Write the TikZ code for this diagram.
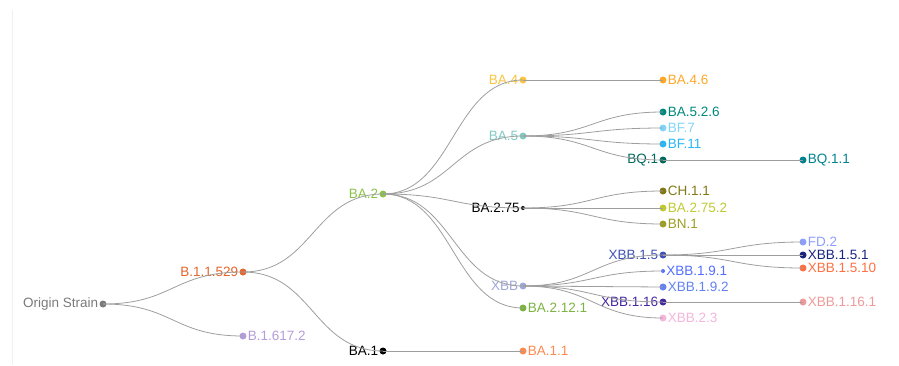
\documentclass[tikz,border=0pt]{standalone}
\usepackage{fontspec}
\setmainfont{Liberation Sans}
\usetikzlibrary{positioning}

\definecolor{cOrigin}{HTML}{7A7A7A}
\definecolor{cBOneOneFive}{HTML}{E5642B}
\definecolor{cBSixOneSeven}{HTML}{B39DDB}
\definecolor{cBATwo}{HTML}{8BC34A}
\definecolor{cBAFour}{HTML}{F9C440}
\definecolor{cBAFive}{HTML}{80CBC4}
\definecolor{cXBB}{HTML}{9FA8DA}
\definecolor{cBATwoTwelve}{HTML}{7CB342}
\definecolor{cBAOneOne}{HTML}{FF8A50}
\definecolor{cBAFourSix}{HTML}{FFA726}
\definecolor{cBAFiveTwo}{HTML}{00897B}
\definecolor{cBFSeven}{HTML}{81D4FA}
\definecolor{cBFEleven}{HTML}{29B6F6}
\definecolor{cBQOne}{HTML}{00695C}
\definecolor{cBQOneOne}{HTML}{00838F}
\definecolor{cCHOne}{HTML}{827717}
\definecolor{cBATwoSeven}{HTML}{C0CA33}
\definecolor{cBNOne}{HTML}{9E9D24}
\definecolor{cXBBFive}{HTML}{3F51B5}
\definecolor{cXBBNineOne}{HTML}{536DFE}
\definecolor{cXBBNineTwo}{HTML}{6482F0}
\definecolor{cXBBSixteen}{HTML}{4527A0}
\definecolor{cXBBTwoThree}{HTML}{F4B6DA}
\definecolor{cFDTwo}{HTML}{8C9EFF}
\definecolor{cXBBFiveOne}{HTML}{1A237E}
\definecolor{cXBBFiveTen}{HTML}{FF7043}
\definecolor{cXBBSixteenOne}{HTML}{EF9A9A}
\definecolor{cLink}{HTML}{9E9E9E}

\tikzset{
  dot/.style={circle, fill=#1, inner sep=0pt, minimum size=7pt},
  small dot/.style={circle, fill=#1, inner sep=0pt, minimum size=4pt},
  tag/.style={font=\fontsize{13.5}{16}\selectfont, inner sep=1pt},
  link/.style={draw=cLink, line width=0.8pt}
}

\begin{document}
\begin{tikzpicture}[x=1pt, y=-1pt]
			 \useasboundingbox (0,0) rectangle (899,365);
			 \draw[black!6, line width=0.8pt] (12,10) -- (12,365);
			 % root and first level
			 \node (origin) [dot=cOrigin, label={[tag, text=cOrigin]left:Origin Strain}] at (103,304) {};
			 \node (b11529) [dot=cBOneOneFive, label={[tag, text=cBOneOneFive]left:B.1.1.529}] at (243,272) {};
			 \node (b16172) [dot=cBSixOneSeven, label={[tag, text=cBSixOneSeven]right:B.1.617.2}] at (243,336) {};
			 \node (ba2) [dot=cBATwo, label={[tag, text=cBATwo]left:BA.2}] at (383,194) {};
			 \node (ba1) [dot=black, label={[tag, text=black]left:BA.1}] at (383,351) {};
			 % third column
			 \node (ba4) [dot=cBAFour, label={[tag, text=cBAFour]left:BA.4}] at (523,80) {};
			 \node (ba5) [dot=cBAFive, label={[tag, text=cBAFive]left:BA.5}] at (523,136) {};
			 \node (ba275) [small dot=black, label={[tag, text=black]left:BA.2.75}] at (523,208) {};
			 \node (xbb) [dot=cXBB, label={[tag, text=cXBB]left:XBB}] at (523,286) {};
			 \node (ba2121) [dot=cBATwoTwelve, label={[tag, text=cBATwoTwelve]right:BA.2.12.1}] at (523,308) {};
			 \node (ba11) [dot=cBAOneOne, label={[tag, text=cBAOneOne]right:BA.1.1}] at (523,351) {};
			 % fourth column
			 \node (ba46) [dot=cBAFourSix, label={[tag, text=cBAFourSix]right:BA.4.6}] at (663,80) {};
			 \node (ba526) [dot=cBAFiveTwo, label={[tag, text=cBAFiveTwo]right:BA.5.2.6}] at (663,112) {};
			 \node (bf7) [dot=cBFSeven, label={[tag, text=cBFSeven]right:BF.7}] at (663,128) {};
			 \node (bf11) [dot=cBFEleven, label={[tag, text=cBFEleven]right:BF.11}] at (663,144) {};
			 \node (bq1) [dot=cBQOne, label={[tag, text=cBQOne]left:BQ.1}] at (663,160) {};
			 \node (ch11) [dot=cCHOne, label={[tag, text=cCHOne]right:CH.1.1}] at (663,191) {};
			 \node (ba2752) [dot=cBATwoSeven, label={[tag, text=cBATwoSeven]right:BA.2.75.2}] at (663,208) {};
			 \node (bn1) [dot=cBNOne, label={[tag, text=cBNOne]right:BN.1}] at (663,224) {};
			 \node (xbb15) [dot=cXBBFive, label={[tag, text=cXBBFive]left:XBB.1.5}] at (663,255) {};
			 \node (xbb191) [small dot=cXBBNineOne, label={[tag, text=cXBBNineOne]right:XBB.1.9.1}] at (663,271) {};
			 \node (xbb192) [dot=cXBBNineTwo, label={[tag, text=cXBBNineTwo]right:XBB.1.9.2}] at (663,287) {};
			 \node (xbb116) [dot=cXBBSixteen, label={[tag, text=cXBBSixteen]left:XBB.1.16}] at (663,302) {};
			 \node (xbb23) [dot=cXBBTwoThree, label={[tag, text=cXBBTwoThree]right:XBB.2.3}] at (663,318) {};
			 % last column
			 \node (bq11) [dot=cBQOneOne, label={[tag, text=cBQOneOne]right:BQ.1.1}] at (803,160) {};
			 \node (fd2) [dot=cFDTwo, label={[tag, text=cFDTwo]right:FD.2}] at (803,242) {};
			 \node (xbb151) [dot=cXBBFiveOne, label={[tag, text=cXBBFiveOne]right:XBB.1.5.1}] at (803,255) {};
			 \node (xbb1510) [dot=cXBBFiveTen, label={[tag, text=cXBBFiveTen]right:XBB.1.5.10}] at (803,268) {};
			 \node (xbb1161) [dot=cXBBSixteenOne, label={[tag, text=cXBBSixteenOne]right:XBB.1.16.1}] at (803,302) {};
			 % links
			 \path[link] (origin.center) .. controls +(70,0) and +(-70,0) .. (b11529.center);
			 \path[link] (origin.center) .. controls +(70,0) and +(-70,0) .. (b16172.center);
			 \path[link] (b11529.center) .. controls +(70,0) and +(-70,0) .. (ba2.center);
			 \path[link] (b11529.center) .. controls +(70,0) and +(-70,0) .. (ba1.center);
			 \path[link] (ba2.center) .. controls +(70,0) and +(-70,0) .. (ba4.center);
			 \path[link] (ba2.center) .. controls +(70,0) and +(-70,0) .. (ba5.center);
			 \path[link] (ba2.center) .. controls +(70,0) and +(-70,0) .. (ba275.center);
			 \path[link] (ba2.center) .. controls +(70,0) and +(-70,0) .. (xbb.center);
			 \path[link] (ba2.center) .. controls +(70,0) and +(-70,0) .. (ba2121.center);
			 \path[link] (ba1.center) -- (ba11.center);
			 \path[link] (ba4.center) -- (ba46.center);
			 \path[link] (ba5.center) .. controls +(70,0) and +(-70,0) .. (ba526.center);
			 \path[link] (ba5.center) .. controls +(70,0) and +(-70,0) .. (bf7.center);
			 \path[link] (ba5.center) .. controls +(70,0) and +(-70,0) .. (bf11.center);
			 \path[link] (ba5.center) .. controls +(70,0) and +(-70,0) .. (bq1.center);
			 \path[link] (bq1.center) -- (bq11.center);
			 \path[link] (ba275.center) .. controls +(70,0) and +(-70,0) .. (ch11.center);
			 \path[link] (ba275.center) -- (ba2752.center);
			 \path[link] (ba275.center) .. controls +(70,0) and +(-70,0) .. (bn1.center);
			 \path[link] (xbb.center) .. controls +(70,0) and +(-70,0) .. (xbb15.center);
			 \path[link] (xbb.center) .. controls +(70,0) and +(-70,0) .. (xbb191.center);
			 \path[link] (xbb.center) -- (xbb192.center);
			 \path[link] (xbb.center) .. controls +(70,0) and +(-70,0) .. (xbb116.center);
			 \path[link] (xbb.center) .. controls +(70,0) and +(-70,0) .. (xbb23.center);
			 \path[link] (xbb15.center) .. controls +(70,0) and +(-70,0) .. (fd2.center);
			 \path[link] (xbb15.center) -- (xbb151.center);
			 \path[link] (xbb15.center) .. controls +(70,0) and +(-70,0) .. (xbb1510.center);
			 \path[link] (xbb116.center) -- (xbb1161.center);
			\end{tikzpicture}
\end{document}
